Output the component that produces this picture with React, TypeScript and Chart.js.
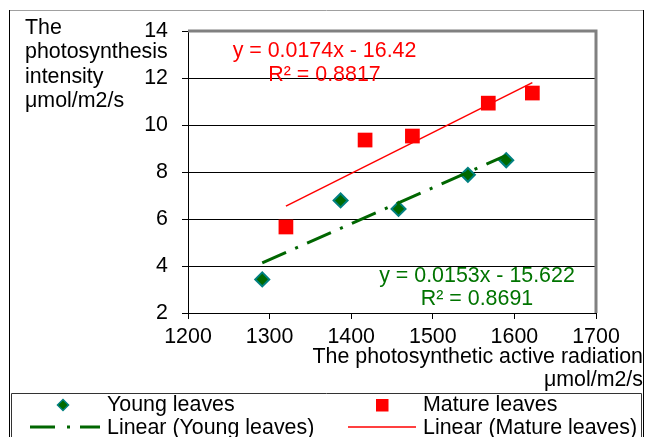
import React, { useEffect, useRef } from "react";
import { Chart, registerables } from "chart.js";

Chart.register(...registerables);

// ---- data ----
const youngX = [1291, 1387, 1458, 1543, 1590];
const youngY = [3.43, 6.79, 6.43, 7.88, 8.5];
const matureX = [1320, 1417, 1475, 1568, 1622];
const matureY = [5.66, 9.36, 9.53, 10.93, 11.36];

const youngTrend = { slope: 0.0153, intercept: -15.622 };
const matureTrend = { slope: 0.0174, intercept: -16.42 };

const youngEquation = ["y = 0.0153x - 15.622", "R² = 0.8691"];
const matureEquation = ["y = 0.0174x - 16.42", "R² = 0.8817"];

const xTickValues = [1200, 1300, 1400, 1500, 1600, 1700];
const yTickValues = [2, 4, 6, 8, 10, 12, 14];

const yTitleLines = ["The", "photosynthesis", "intensity", "μmol/m2/s"];
const xTitleLines = ["The photosynthetic active radiation", "μmol/m2/s"];

const legendLabels = [
  "Young leaves",
  "Mature leaves",
  "Linear (Young leaves)",
  "Linear (Mature leaves)",
];

const FONT = "'Liberation Sans', Arial, sans-serif";
const FS = 21.4;
const GREEN_LINE = "#006600";
const GREEN_TEXT = "#007400";
const GREEN_FILL = "#006a00";
const TEAL = "#008080";
const RED = "#ff0000";

function trendPoints(xs: number[], t: { slope: number; intercept: number }) {
  const x0 = Math.min(...xs);
  const x1 = Math.max(...xs);
  return [
    { x: x0, y: t.slope * x0 + t.intercept },
    { x: x1, y: t.slope * x1 + t.intercept },
  ];
}

const decorPlugin = {
  id: "decor",
  beforeDatasetsDraw(chart: any) {
    const { ctx, chartArea: a } = chart;
    ctx.save();
    ctx.strokeStyle = "#808080";
    ctx.lineWidth = 3;
    ctx.beginPath();
    ctx.moveTo(a.left, a.top);
    ctx.lineTo(a.right, a.top);
    ctx.lineTo(a.right, a.bottom);
    ctx.stroke();
    ctx.restore();
  },
  afterDraw(chart: any) {
    const { ctx } = chart;
    ctx.save();
    // outer frame
    ctx.lineWidth = 1;
    ctx.strokeStyle = "#a0a0a0";
    ctx.beginPath();
    ctx.moveTo(9, 10.5);
    ctx.lineTo(644, 10.5);
    ctx.stroke();
    ctx.strokeStyle = "#000";
    ctx.beginPath();
    ctx.moveTo(9.5, 10);
    ctx.lineTo(9.5, 437);
    ctx.moveTo(643.5, 10);
    ctx.lineTo(643.5, 437);
    ctx.stroke();
    // legend box
    ctx.strokeStyle = "#333";
    ctx.beginPath();
    ctx.moveTo(11.5, 437);
    ctx.lineTo(11.5, 393.5);
    ctx.lineTo(641.5, 393.5);
    ctx.lineTo(641.5, 437);
    ctx.stroke();

    ctx.font = `${FS}px ${FONT}`;
    ctx.textBaseline = "middle";
    // y title
    ctx.fillStyle = "#000";
    ctx.textAlign = "left";
    const yTitleY = [28, 52.5, 77, 101];
    yTitleLines.forEach((l, i) => ctx.fillText(l, 25, yTitleY[i]));
    // x title
    ctx.textAlign = "right";
    ctx.fillText(xTitleLines[0], 643, 357);
    ctx.fillText(xTitleLines[1], 643, 380);

    // equations
    ctx.textAlign = "center";
    ctx.fillStyle = RED;
    ctx.fillText(matureEquation[0], 324.5, 51);
    ctx.fillText(matureEquation[1], 324.5, 75);
    ctx.fillStyle = GREEN_TEXT;
    ctx.fillText(youngEquation[0], 477, 276);
    ctx.fillText(youngEquation[1], 477, 299);

    // legend
    ctx.textAlign = "left";
    ctx.fillStyle = "#000";
    ctx.fillText(legendLabels[0], 107, 405);
    ctx.fillText(legendLabels[1], 423, 405);
    ctx.fillText(legendLabels[2], 107, 428);
    ctx.fillText(legendLabels[3], 423, 428);
    // diamond
    ctx.beginPath();
    ctx.moveTo(63, 399.5);
    ctx.lineTo(68.5, 405);
    ctx.lineTo(63, 410.5);
    ctx.lineTo(57.5, 405);
    ctx.closePath();
    ctx.fillStyle = GREEN_FILL;
    ctx.fill();
    ctx.strokeStyle = TEAL;
    ctx.lineWidth = 1.5;
    ctx.stroke();
    // square
    ctx.fillStyle = RED;
    ctx.fillRect(376, 399, 12.5, 12.5);
    // dash-dot line
    ctx.strokeStyle = GREEN_LINE;
    ctx.lineWidth = 3;
    ctx.setLineDash([25, 12, 3, 10]);
    ctx.beginPath();
    ctx.moveTo(30, 427);
    ctx.lineTo(100, 427);
    ctx.stroke();
    ctx.setLineDash([]);
    ctx.strokeStyle = RED;
    ctx.lineWidth = 1.5;
    ctx.beginPath();
    ctx.moveTo(348, 427);
    ctx.lineTo(416, 427);
    ctx.stroke();
    ctx.restore();
  },
};

export default function App() {
  const ref = useRef<HTMLCanvasElement | null>(null);

  useEffect(() => {
    if (!ref.current) return;
    const chart = new Chart(ref.current, {
      type: "scatter",
      data: {
        datasets: [
          {
            label: legendLabels[0],
            data: youngX.map((x, i) => ({ x, y: youngY[i] })),
            pointStyle: "rectRot",
            pointRadius: 7,
            pointBackgroundColor: GREEN_FILL,
            pointBorderColor: TEAL,
            pointBorderWidth: 2,
            showLine: false,
            order: 1,
          },
          {
            label: legendLabels[1],
            data: matureX.map((x, i) => ({ x, y: matureY[i] })),
            pointStyle: "rect",
            pointRadius: 10.4,
            pointBackgroundColor: RED,
            pointBorderColor: RED,
            pointBorderWidth: 0,
            showLine: false,
            order: 1,
          },
          {
            label: legendLabels[2],
            data: trendPoints(youngX, youngTrend),
            showLine: true,
            borderColor: GREEN_LINE,
            borderWidth: 3,
            borderDash: [26, 10, 3, 10],
            pointRadius: 0,
            order: 0,
          },
          {
            label: legendLabels[3],
            data: trendPoints(matureX, matureTrend),
            showLine: true,
            borderColor: RED,
            borderWidth: 1.5,
            pointRadius: 0,
            order: 0,
          },
        ],
      },
      options: {
        animation: false,
        responsive: false,
        events: [],
        layout: { padding: { left: 0, top: 31, right: 50, bottom: 0 } },
        plugins: {
          legend: { display: false },
          tooltip: { enabled: false },
          title: { display: false },
        },
        scales: {
          x: {
            type: "linear",
            min: xTickValues[0],
            max: xTickValues[xTickValues.length - 1],
            afterBuildTicks: (s: any) => {
              s.ticks = xTickValues.map((v) => ({ value: v }));
            },
            afterFit: (s: any) => {
              s.height = 124;
            },
            grid: {
              drawOnChartArea: false,
              drawTicks: true,
              tickLength: 6,
              color: "#000",
            },
            border: { display: true, color: "#000", width: 1 },
            ticks: {
              color: "#000",
              font: { family: FONT, size: FS },
              padding: 5,
              maxRotation: 0,
              autoSkip: false,
              callback: (v: any) => String(v),
            },
          },
          y: {
            type: "linear",
            min: yTickValues[0],
            max: yTickValues[yTickValues.length - 1],
            afterBuildTicks: (s: any) => {
              s.ticks = yTickValues.map((v) => ({ value: v }));
            },
            afterFit: (s: any) => {
              s.width = 188;
            },
            grid: {
              drawTicks: true,
              tickLength: 6,
              color: "#000",
              lineWidth: 1,
            },
            border: { display: true, color: "#000", width: 1 },
            ticks: {
              color: "#000",
              font: { family: FONT, size: FS },
              padding: 14,
              autoSkip: false,
              callback: (v: any) => String(v),
            },
          },
        },
      },
      plugins: [decorPlugin],
    });
    return () => chart.destroy();
  }, []);

  return (
    <div style={{ position: "fixed", left: 0, top: 0, width: 646, height: 437, background: "#fff" }}>
      <canvas ref={ref} width={646} height={437} style={{ width: 646, height: 437, display: "block" }} />
    </div>
  );
}
